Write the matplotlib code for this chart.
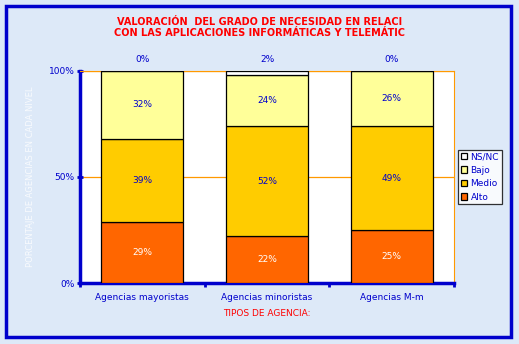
import numpy as np
import matplotlib.pyplot as plt
from matplotlib.patches import Rectangle

categories = ['Agencias mayoristas', 'Agencias minoristas', 'Agencias M-m']
alto = [29, 22, 25]
medio = [39, 52, 49]
bajo = [32, 24, 26]
nsnc = [0, 2, 0]
series_names = ['Alto', 'Medio', 'Bajo', 'NS/NC']
series_colors = ['#ff6600', '#ffcc00', '#ffff99', '#ffffff']
label_colors = ['white', '#0000cc', '#0000cc', '#0000cc']

blue = '#0000cc'
fig = plt.figure(figsize=(5.19, 3.44), dpi=100)
fig.patch.set_facecolor('#dde9f8')

# blue frame around whole chart
fig.patches.append(Rectangle((0.012, 0.02), 0.972, 0.962, transform=fig.transFigure,
                             fill=False, edgecolor=blue, linewidth=2.5))

ax = fig.add_axes([0.154, 0.177, 0.721, 0.617])
ax.set_facecolor('white')

x = np.arange(len(categories))
data = [alto, medio, bajo, nsnc]
bottom = np.zeros(len(categories))
bars = []
for vals, col in zip(data, series_colors):
    b = ax.bar(x, vals, bottom=bottom, width=0.66, color=col, edgecolor='black',
               linewidth=0.9, zorder=3)
    bars.append(b)
    bottom += np.array(vals)

# value labels
for i in range(len(categories)):
    base = 0
    for k, vals in enumerate(data[:3]):
        ax.text(x[i], base + vals[i] / 2, f'{vals[i]}%', ha='center', va='center',
                fontsize=6.5, color=label_colors[k], zorder=5)
        base += vals[i]
    ax.text(x[i], 103, f'{nsnc[i]}%', ha='center', va='bottom', fontsize=6.5,
            color=blue, clip_on=False)

ax.set_xlim(-0.5, 2.5)
ax.set_ylim(0, 100)
ax.set_yticks([0, 50, 100])
ax.set_yticklabels(['0%', '50%', '100%'], fontsize=6.5, color=blue)
ax.set_xticks([-0.5, 0.5, 1.5, 2.5], minor=False)
ax.set_xticklabels([])
ax.set_xticks(x, minor=True)
ax.set_xticklabels(categories, minor=True, fontsize=6.5, color=blue)
ax.tick_params(axis='x', which='minor', length=0, pad=7)
ax.tick_params(axis='x', which='major', length=3, width=2, color=blue, direction='out')
ax.tick_params(axis='y', length=4, width=2, color=blue, direction='inout', pad=2)
for y in (50, 100):
    ax.axhline(y, color='#ff9900', linewidth=0.9, zorder=1)
ax.spines['left'].set_color(blue)
ax.spines['left'].set_linewidth(2.5)
ax.spines['bottom'].set_color(blue)
ax.spines['bottom'].set_linewidth(2.5)
ax.spines['right'].set_color('#ff9900')
ax.spines['top'].set_color('#ff9900')

ax.set_xlabel('TIPOS DE AGENCIA:', fontsize=6.5, color='red', labelpad=5)
ax.set_ylabel('PORCENTAJE DE AGENCIAS EN CADA NIVEL', fontsize=6, color='white',
              labelpad=10, alpha=0.8)

fig.text(0.5, 0.95, 'VALORACIÓN  DEL GRADO DE NECESIDAD EN RELACI\nCON LAS APLICACIONES INFORMÁTICAS Y TELEMÁTIC',
         ha='center', va='top', fontsize=7, color='red', fontweight='bold', linespacing=1.1)

handles = [bars[3], bars[2], bars[1], bars[0]]
leg = ax.legend(handles, ['NS/NC', 'Bajo', 'Medio', 'Alto'], loc='center left',
                bbox_to_anchor=(1.01, 0.5), fontsize=6.5, frameon=True, fancybox=False,
                handlelength=0.7, handleheight=0.7, handletextpad=0.4, borderpad=0.3,
                labelspacing=0.5, labelcolor=blue, borderaxespad=0)
leg.get_frame().set_edgecolor('black')
leg.get_frame().set_linewidth(0.9)

fig.savefig('out.png', dpi=100, facecolor=fig.get_facecolor())
